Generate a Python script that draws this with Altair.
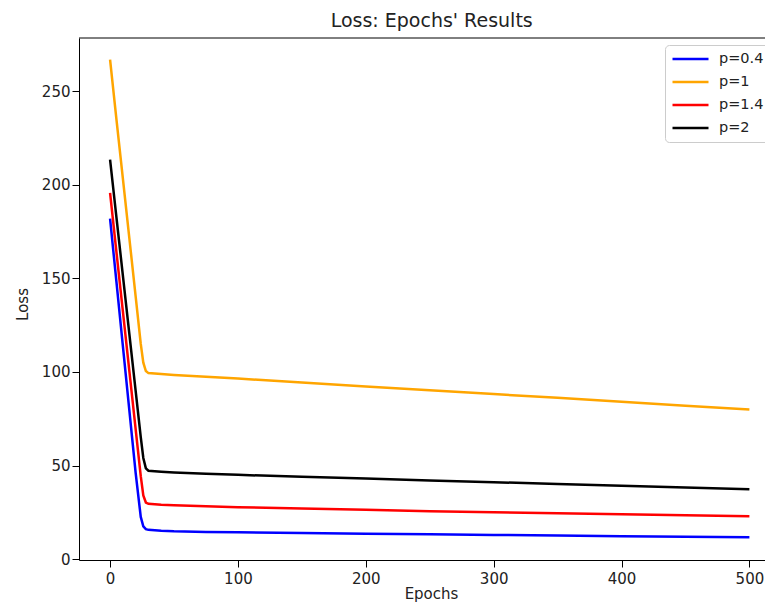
import altair as alt
import pandas as pd

epochs = [0, 5, 10, 15, 20, 24, 26, 28, 30, 40, 50, 75, 100, 150, 200, 250, 300, 350, 400, 450, 500]

loss_p04 = [182.0, 148.0, 114.0, 80.0, 46.0, 22.5, 17.5, 16.0, 15.6, 15.1, 14.8, 14.5, 14.3, 13.9, 13.5, 13.2, 12.9, 12.6, 12.2, 11.9, 11.7]
loss_p1 = [267.0, 235.0, 203.5, 172.0, 140.5, 115.0, 105.0, 100.5, 99.4, 98.9, 98.4, 97.4, 96.5, 94.4, 92.3, 90.2, 88.2, 86.2, 84.1, 82.0, 80.0]
loss_p14 = [195.8, 164.0, 132.5, 101.0, 69.5, 44.3, 34.0, 30.2, 29.5, 29.0, 28.7, 28.2, 27.7, 27.0, 26.3, 25.6, 25.0, 24.5, 24.0, 23.4, 22.9]
loss_p2 = [213.6, 182.6, 151.7, 120.8, 89.9, 65.2, 54.0, 48.5, 47.2, 46.7, 46.3, 45.6, 45.0, 44.0, 43.0, 42.0, 41.1, 40.1, 39.2, 38.2, 37.3]

series_names = ["p=0.4", "p=1", "p=1.4", "p=2"]
series_colors = ["#0000ff", "#ffa500", "#ff0000", "#000000"]
series_values = [loss_p04, loss_p1, loss_p14, loss_p2]

x_ticks = [0, 100, 200, 300, 400, 500]
y_ticks = [0, 50, 100, 150, 200, 250]

rows = []
for name, vals in zip(series_names, series_values):
    for e, v in zip(epochs, vals):
        rows.append({"epoch": e, "loss": v, "series": name})
df = pd.DataFrame(rows)

FONT = "DejaVu Sans"
W, H = 686, 522

lines = alt.Chart(df).mark_line(strokeWidth=2.5, clip=True).encode(
    x=alt.X("epoch:Q",
            scale=alt.Scale(domain=[-24.3, 512.2], nice=False, zero=False),
            axis=alt.Axis(values=x_ticks, title="Epochs", grid=False,
                          domainColor="black", tickColor="black", tickSize=7,
                          labelPadding=4, labelFontSize=15, labelFont=FONT,
                          labelColor="#222", titleFontSize=15, titleFont=FONT,
                          titleFontWeight="normal", titleColor="#222",
                          titleX=352, titleY=38, titleBaseline="alphabetic",
                          titleAlign="center")),
    y=alt.Y("loss:Q",
            scale=alt.Scale(domain=[-0.53, 278.6], nice=False, zero=False),
            axis=alt.Axis(values=y_ticks, title="Loss", grid=False,
                          domainColor="black", tickColor="black", tickSize=7,
                          labelPadding=2, labelFontSize=15, labelFont=FONT,
                          labelColor="#222", titleFontSize=15, titleFont=FONT,
                          titleFontWeight="normal", titleColor="#222",
                          titleX=-57, titleY=266, titleAngle=270,
                          titleBaseline="middle", titleAlign="center")),
    color=alt.Color("series:N",
                    scale=alt.Scale(domain=series_names, range=series_colors),
                    sort=series_names,
                    legend=alt.Legend(title=None, orient="none", legendX=586, legendY=7,
                                      symbolType="stroke", symbolSize=1296,
                                      symbolStrokeWidth=2.5, labelFontSize=14.5,
                                      labelFont=FONT, labelColor="#222",
                                      labelOffset=9, rowPadding=7, padding=6,
                                      fillColor="white", strokeColor="#cccccc",
                                      cornerRadius=4, clipHeight=16)),
)

top_border = alt.Chart(pd.DataFrame({"a": [0]})).mark_rule(color="black", strokeWidth=1).encode(
    x=alt.value(0), x2=alt.value(W), y=alt.value(0)
)

chart = alt.layer(lines, top_border).properties(
    width=W, height=H,
    title=alt.TitleParams("Loss: Epochs' Results", fontSize=19, font=FONT,
                          fontWeight="normal", color="#222", dx=9.7, dy=-3),
    autosize=alt.AutoSizeParams(type="none"),
    padding={"left": 71, "top": 30, "right": 0, "bottom": 42},
).configure_view(stroke=None)

chart.save("out.html", embed_options={"renderer": "svg", "actions": False})
